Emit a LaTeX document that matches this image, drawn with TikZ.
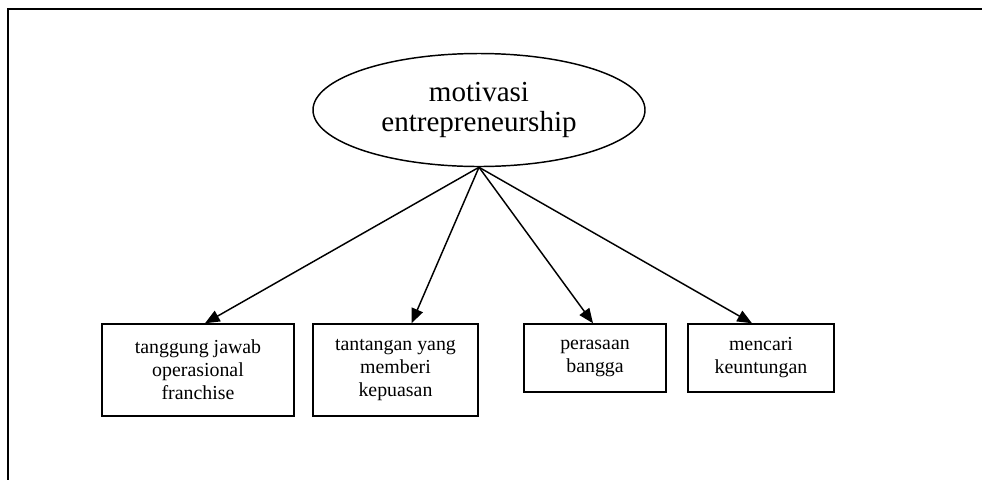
\documentclass[tikz,border=0pt]{standalone}
\usepackage{fontspec}
\setmainfont{Liberation Serif}
\usetikzlibrary{shapes.geometric,arrows.meta,positioning,calc}

\tikzset{
  ovalnode/.style={draw, ellipse, line width=1.1pt, inner sep=0pt,
    minimum width=249pt, minimum height=84.75pt, align=center,
    font=\fontsize{21.8}{22.5}\selectfont},
  boxnode/.style={draw, rectangle, line width=1.1pt, inner sep=0pt,
    align=center, font=\fontsize{14.9}{17.25}\selectfont},
  link/.style={line width=1.1pt, -{Triangle[length=11pt,width=9pt]}}
}

\begin{document}
\begin{tikzpicture}[x=0.75pt, y=-0.75pt]
        % page area and frame
        \useasboundingbox (0,0) rectangle (982,480);
        \draw[line width=1.6pt] (982,9) -- (8,9) -- (8,480);

        % central ellipse
        \node[ovalnode] (motif) at (479,110) {motivasi\\entrepreneurship};

        % four boxes
        \node[boxnode, minimum width=144pt, minimum height=69pt] (tanggung) at (198,370)
            {tanggung jawab\\operasional\\franchise};
        \node[boxnode, minimum width=123.75pt, minimum height=69pt] (tantangan) at (395.5,370)
            {tantangan yang\\memberi\\kepuasan};
        \node[boxnode, minimum width=106.5pt, minimum height=51pt] (bangga) at (595,358)
            {perasaan\\bangga};
        \node[boxnode, minimum width=109.5pt, minimum height=51pt] (untung) at (761,358)
            {mencari\\keuntungan};

        % arrows
        \draw[link] (motif.south) -- ([xshift=5.25pt]tanggung.north);
        \draw[link] (motif.south) -- ([xshift=12pt]tantangan.north);
        \draw[link] (motif.south) -- ([xshift=-1.5pt]bangga.north);
        \draw[link] (motif.south) -- ([xshift=-6.75pt]untung.north);
    \end{tikzpicture}
\end{document}
